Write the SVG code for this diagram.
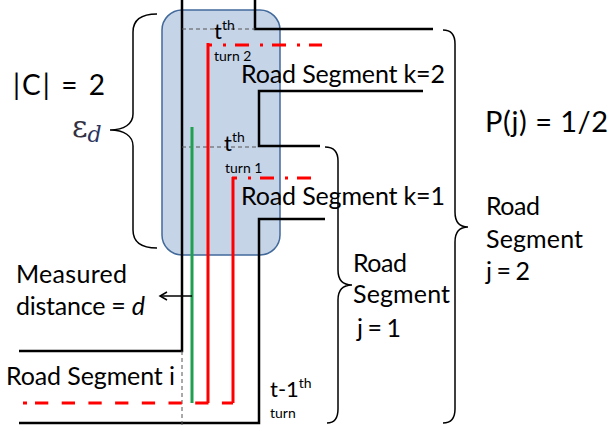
<svg xmlns="http://www.w3.org/2000/svg" width="611" height="431" viewBox="0 0 611 431">
<style>
text{font-family:Lato,"Open Sans","Liberation Sans",sans-serif;fill:#000}
.big{font-size:25px}
.sm{font-size:14px}
.mid{font-size:22px}
.road{fill:none;stroke:#000;stroke-width:2.5}
.thin{fill:none;stroke:#555;stroke-width:1;stroke-dasharray:4 3}
.red{fill:none;stroke:#ff0000;stroke-width:3}
.dd{stroke-dasharray:14 11 3 9;stroke-dashoffset:9}
.brace{fill:none;stroke:#000;stroke-width:1.5}
</style>
<defs>
<marker id="ah" markerWidth="10" markerHeight="10" refX="8" refY="5" orient="auto" markerUnits="userSpaceOnUse">
<path d="M1,1 L8,5 L1,9" fill="none" stroke="#000" stroke-width="1.5"/>
</marker>
</defs>
<g id="zone">
<rect x="162" y="10" width="118" height="245" rx="20" fill="#c6d4e8" stroke="#41699a" stroke-width="1.5"/>
</g>
<g id="connectors">
<path class="road" d="M182,0 V351 H19"/>
<path class="road" d="M19,423 H259 V219 H325"/>
<path class="road" d="M320,146 H259 V91 H423"/>
<path class="road" d="M433,29 H255 V0"/>
<path class="thin" d="M182,29 H255"/>
<path class="thin" d="M182,147 H259"/>
<path class="thin" d="M182,351 V425"/>
<path d="M192,127 V403" fill="none" stroke="#1fa050" stroke-width="3"/>
<path class="red" d="M208,403 V43"/>
<path class="red dd" d="M207,45 H322"/>
<path class="red" d="M233,403 V177"/>
<path class="red dd" d="M232,178 H312"/>
<path class="red" d="M35,403 H233" stroke-dasharray="13.3 13.4"/>
<path class="red" d="M23,403 H27"/>
<path d="M192,296 H160" fill="none" stroke="#000" stroke-width="1.5" marker-end="url(#ah)"/>
<path class="brace" d="M157,14 C143,14 133,18 133,32 L133,114 C133,124 124,130 110,130 C124,130 133,136 133,146 L133,230 C133,244 143,248 157,248"/>
<path class="brace" d="M443,30 C451,30 455,34 455,44 L455,212 C455,221 459,227 468,227 C459,227 455,233 455,242 L455,409 C455,418 451,423 443,423"/>
<path class="brace" d="M325,147 C333,147 338,151 338,161 L338,270 C338,279 342,285 352,285 C342,285 338,291 338,300 L338,409 C338,418 334,423 327,423"/>
</g>
<g id="labels">
<text x="13" y="95" style="font-size:28px" textLength="92">|C| = 2</text>
<text x="72" y="137" style="font-family:'DejaVu Serif',serif;font-size:30px;fill:#34303f">ε<tspan style="font-style:italic;font-size:22px;fill:#2c3560" dy="5">d</tspan></text>
<text class="mid" x="214" y="39">t<tspan class="sm" dy="-9">th</tspan></text>
<text class="sm" x="214" y="61">turn 2</text>
<text class="big" x="241" y="83" textLength="204">Road Segment k=2</text>
<text class="mid" x="224" y="151">t<tspan class="sm" dy="-9">th</tspan></text>
<text class="sm" x="225" y="173">turn 1</text>
<text class="big" x="241" y="205" textLength="204">Road Segment k=1</text>
<text x="485" y="132" style="font-size:29px" textLength="123">P(j) = 1/2</text>
<text class="big" x="486" y="215" textLength="54">Road</text>
<text class="big" x="486" y="248" textLength="97">Segment</text>
<text class="big" x="486" y="280" textLength="44">j = 2</text>
<text class="big" x="353" y="272" textLength="54">Road</text>
<text class="big" x="353" y="303" textLength="97">Segment</text>
<text class="big" x="357" y="337" textLength="44">j = 1</text>
<text class="big" x="16" y="283" textLength="111">Measured</text>
<text class="big" x="16" y="315" textLength="129">distance = <tspan style="font-style:italic">d</tspan></text>
<text class="big" x="6" y="385" textLength="169">Road Segment i</text>
<text class="mid" x="270" y="397">t-1<tspan class="sm" dy="-9">th</tspan></text>
<text class="sm" x="270" y="418">turn</text>
</g>
</svg>
